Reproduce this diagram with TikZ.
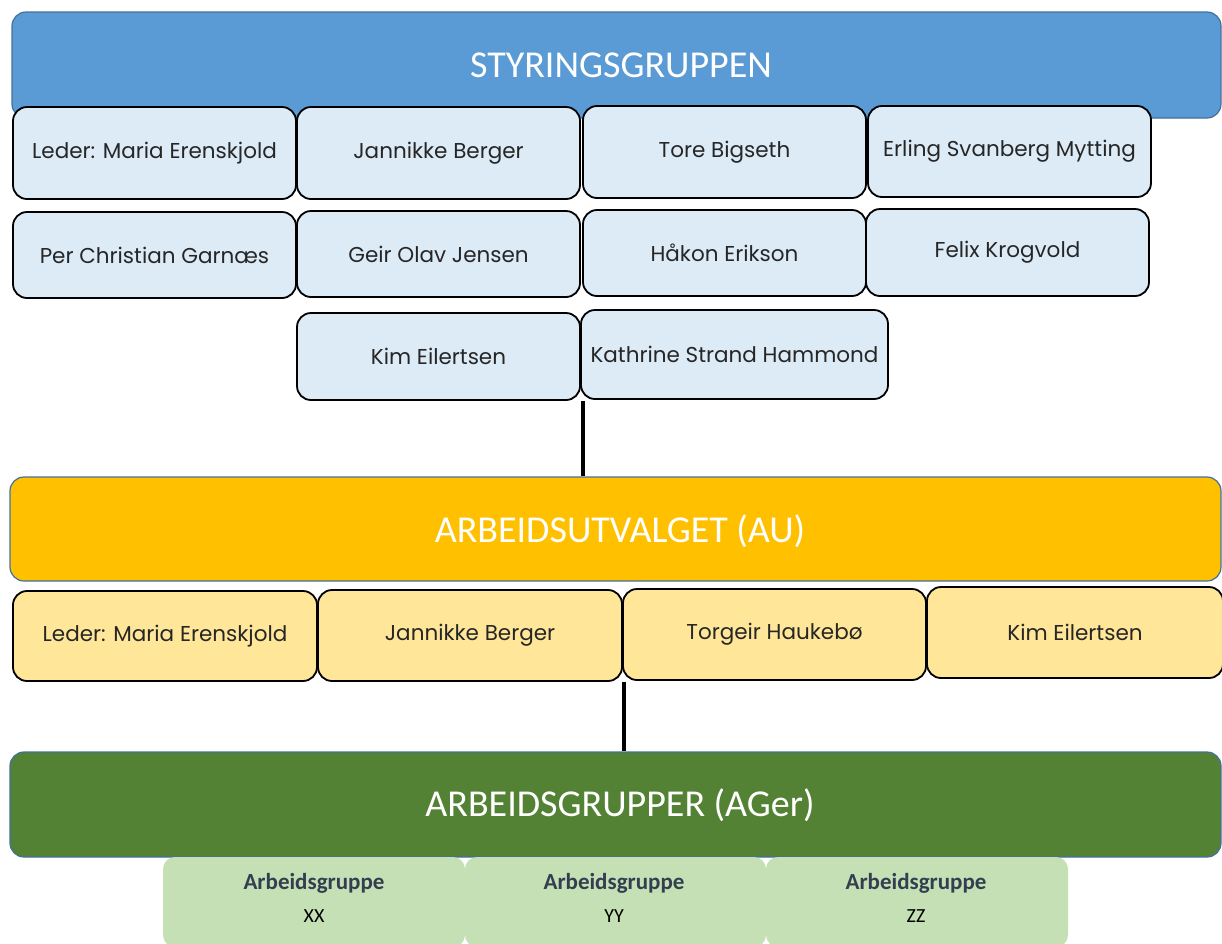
\documentclass[tikz,border=0pt]{standalone}
\usepackage{fontspec}
\setmainfont{Carlito}
\newfontfamily\namefont{Poppins}
\definecolor{barblue}{HTML}{5B9BD5}
\definecolor{baryellow}{HTML}{FFC000}
\definecolor{bargreen}{HTML}{548235}
\definecolor{barline}{HTML}{41719C}
\definecolor{lightblue}{HTML}{DDEBF7}
\definecolor{lightyellow}{HTML}{FFE699}
\definecolor{lightgreen}{HTML}{C5E0B4}
\definecolor{nametext}{HTML}{262626}
\definecolor{grouptext}{HTML}{333F50}
\begin{document}
\begin{tikzpicture}[x=1pt,y=-1pt,
  bar/.style={draw=barline,line width=1.2pt,rounded corners=14pt,inner sep=0pt},
  bartitle/.style={text=white,font=\fontsize{38}{42}\selectfont},
  person/.style={draw=black,line width=1.8pt,rounded corners=14pt,inner sep=0pt,
    text=nametext,font=\namefont\fontsize{21.5}{24}\selectfont},
  bluep/.style={person,fill=lightblue},
  yellowp/.style={person,fill=lightyellow},
  group/.style={fill=lightgreen,rounded corners=12pt,inner sep=0pt},
  grouphead/.style={text=grouptext,font=\bfseries\fontsize{23}{26}\selectfont},
  groupname/.style={text=black,font=\fontsize{20}{22}\selectfont},
  link/.style={line width=4pt,black}]
\useasboundingbox (0,0) rectangle (1222,943);
% Styringsgruppen
\node[bar,fill=barblue,minimum width=1209pt,minimum height=106pt] (styr) at (616.5,65) {};
\node[bartitle] (styrt) at (621,65) {STYRINGSGRUPPEN};
\node[bluep,minimum width=283pt,minimum height=92pt] (s1) at (154.5,153) {Leder: Maria Erenskjold};
\node[bluep,minimum width=283pt,minimum height=92pt] (s2) at (438.5,153) {Jannikke Berger};
\node[bluep,minimum width=283pt,minimum height=92pt] (s3) at (724.5,152) {Tore Bigseth};
\node[bluep,minimum width=283pt,minimum height=91pt] (s4) at (1009.5,151.5) {Erling Svanberg Mytting};
\node[bluep,minimum width=283pt,minimum height=86pt] (s5) at (154.5,255) {Per Christian Garnæs};
\node[bluep,minimum width=283pt,minimum height=86pt] (s6) at (438.5,254) {Geir Olav Jensen};
\node[bluep,minimum width=283pt,minimum height=86pt] (s7) at (724.5,253) {Håkon Erikson};
\node[bluep,minimum width=283pt,minimum height=87pt] (s8) at (1007.5,252.5) {Felix Krogvold};
\node[bluep,minimum width=283pt,minimum height=87pt] (s9) at (438.5,356.5) {Kim Eilertsen};
\node[bluep,minimum width=307pt,minimum height=89pt] (s10) at (734.5,354.5) {Kathrine Strand Hammond};
% Arbeidsutvalget
\node[bar,fill=baryellow,minimum width=1211pt,minimum height=104pt] (au) at (615.5,529) {};
\node[bartitle] (aut) at (620,531) {ARBEIDSUTVALGET (AU)};
\node[yellowp,minimum width=304pt,minimum height=90pt] (a1) at (165,636) {Leder: Maria Erenskjold};
\node[yellowp,minimum width=304pt,minimum height=91pt] (a2) at (470,635.5) {Jannikke Berger};
\node[yellowp,minimum width=303pt,minimum height=91pt] (a3) at (774.5,634.5) {Torgeir Haukebø};
\node[yellowp,minimum width=296pt,minimum height=91pt] (a4) at (1075,632.5) {Kim Eilertsen};
% Arbeidsgrupper
\node[bar,fill=bargreen,minimum width=1211pt,minimum height=105pt] (ag) at (615.5,804.5) {};
\node[bartitle] (agt) at (620,805) {ARBEIDSGRUPPER (AGer)};
\node[group,minimum width=302pt,minimum height=90pt] (g1) at (314,902) {};
\node[group,minimum width=301pt,minimum height=90pt] (g2) at (615.5,902) {};
\node[group,minimum width=302pt,minimum height=90pt] (g3) at (917,902) {};
\node[grouphead] (g1a) at (314,883) {Arbeidsgruppe};
\node[groupname] (g1b) at (314,916) {XX};
\node[grouphead] (g2a) at (614,883) {Arbeidsgruppe};
\node[groupname] (g2b) at (614,916) {YY};
\node[grouphead] (g3a) at (916,883) {Arbeidsgruppe};
\node[groupname] (g3b) at (916,916) {ZZ};
% connectors
\draw[link] (s9.south east) ++(2,0) coordinate (c1) -- (c1 |- au.north);
\draw[link] (a2.south east) ++(1,0) coordinate (c2) -- (c2 |- ag.north);
\end{tikzpicture}
\end{document}
